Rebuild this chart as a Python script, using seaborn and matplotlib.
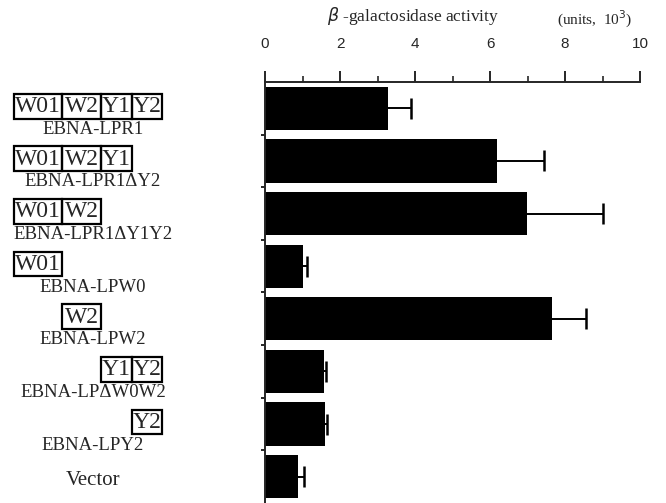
import matplotlib
matplotlib.use("Agg")
import matplotlib.pyplot as plt
import matplotlib.transforms as mtransforms
from matplotlib.patches import Rectangle
import seaborn as sns
import pandas as pd
import numpy as np

constructs = ["EBNA-LPR1", "EBNA-LPR1\u0394Y2", "EBNA-LPR1\u0394Y1Y2", "EBNA-LPW0",
              "EBNA-LPW2", "EBNA-LP\u0394W0W2", "EBNA-LPY2", "Vector"]
domains = [["W01", "W2", "Y1", "Y2"], ["W01", "W2", "Y1"], ["W01", "W2"], ["W01"],
           ["W2"], ["Y1", "Y2"], ["Y2"], []]
activity = [3.27, 6.18, 6.99, 1.00, 7.65, 1.56, 1.60, 0.89]
err_up = [0.62, 1.26, 2.03, 0.13, 0.90, 0.07, 0.06, 0.16]
xticks = [0, 2, 4, 6, 8, 10]

df = pd.DataFrame({"construct": constructs, "activity": activity})

sns.set_style("ticks")
plt.rcParams["font.family"] = ["Liberation Serif", "DejaVu Serif"]

fig = plt.figure(figsize=(6.66, 5.03), dpi=100)
ax = fig.add_axes([0.398, 0.0, 0.563, 0.837])

sns.barplot(data=df, x="activity", y="construct", order=constructs, color="black",
            width=0.82, saturation=1, ax=ax, errorbar=None, linewidth=0)

# one-sided error bars (upper side only)
ypos = np.arange(len(constructs))
ends = np.array(activity) + np.array(err_up)
ax.hlines(ypos, activity, ends, color="black", linewidth=1.4, zorder=3)
ax.vlines(ends, ypos - 0.2, ypos + 0.2, color="black", linewidth=1.8, zorder=3)

ax.set_xlim(0, 10)
ax.set_ylim(7.5, -0.5)
ax.xaxis.tick_top()
ax.set_xticks(xticks)
ax.set_xticks(range(11), minor=True)
ax.set_xticklabels([str(t) for t in xticks], family="Liberation Sans", fontsize=11)
ax.tick_params(axis="x", which="major", direction="out", length=8, width=1.4, pad=14)
ax.tick_params(axis="x", which="minor", direction="out", length=4.3, width=1.2)
ax.set_yticks([i + 0.5 for i in range(7)])
ax.set_yticklabels([])
ax.tick_params(axis="y", direction="out", length=3, width=1.4)
ax.set_xlabel("")
ax.set_ylabel("")
for side in ["right", "bottom"]:
    ax.spines[side].set_visible(False)
for side in ["top", "left"]:
    ax.spines[side].set_linewidth(1.4)

fig.text(0.62, 0.968, "$\\beta$ -galactosidase activity", ha="center", va="center", fontsize=12.5)
fig.text(0.893, 0.962, "(units,  10$^{3}$)", ha="center", va="center", fontsize=11)

# construct diagrams at left: x in figure pixels, y in data units
trans = mtransforms.blended_transform_factory(mtransforms.IdentityTransform(), ax.transData)
col_edges = {"W01": (14, 62), "W2": (62, 101), "Y1": (101, 132), "Y2": (132, 162)}
box_h = 0.47
name_x = 93
for i, (name, doms) in enumerate(zip(constructs, domains)):
    for d in doms:
        x0, x1 = col_edges[d]
        ax.add_patch(Rectangle((x0, i - 0.04 - box_h / 2), x1 - x0, box_h, transform=trans,
                               fill=False, edgecolor="black", linewidth=1.6, clip_on=False))
        ax.text((x0 + x1) / 2, i - 0.03, d, transform=trans, ha="center", va="center",
                fontsize=17, clip_on=False)
    if doms:
        ax.text(name_x, i + 0.4, name, transform=trans, ha="center", va="center",
                fontsize=13.5, clip_on=False)
    else:
        ax.text(name_x, i + 0.07, name, transform=trans, ha="center", va="center",
                fontsize=15, clip_on=False)

fig.savefig("out.png", dpi=100)
